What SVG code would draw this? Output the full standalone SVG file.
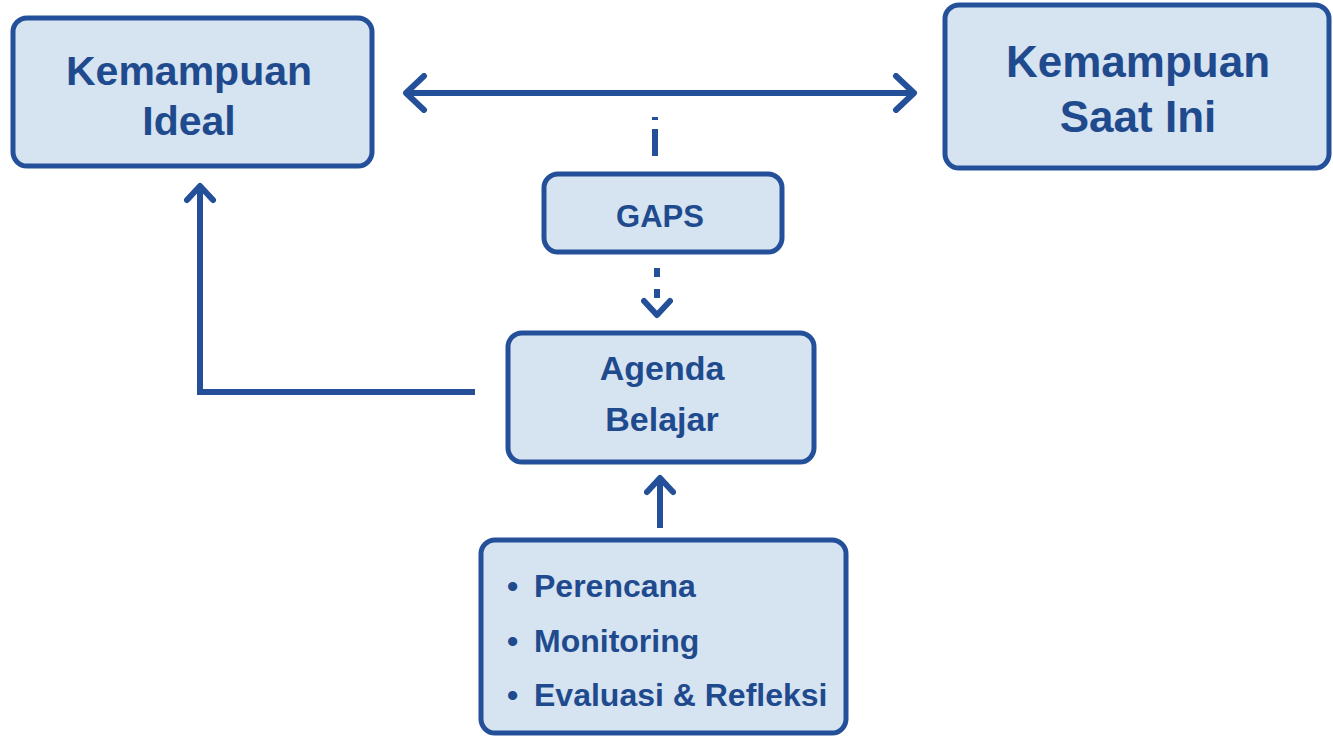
<svg xmlns="http://www.w3.org/2000/svg" width="1333" height="738" viewBox="0 0 1333 738">
<style>
.box{fill:#d6e3f1;stroke:#24509a;stroke-width:5}
.t{font-family:"Liberation Sans",Arial,sans-serif;font-weight:bold;fill:#1f4b8e;text-anchor:middle}
.b{font-family:"Liberation Sans",Arial,sans-serif;font-weight:bold;fill:#1f4b8e;font-size:32px}
.c{fill:none;stroke:#24509a;stroke-width:6}
</style>
<defs>
<marker id="big" viewBox="0 0 26 40" refX="22" refY="20" markerWidth="26" markerHeight="40" markerUnits="userSpaceOnUse" orient="auto-start-reverse">
<path d="M4,3 L22,20 L4,37" fill="none" stroke="#24509a" stroke-width="6" stroke-linecap="round" stroke-linejoin="round"/>
</marker>
<marker id="sm" viewBox="0 0 22 32" refX="18" refY="16" markerWidth="22" markerHeight="32" markerUnits="userSpaceOnUse" orient="auto">
<path d="M4,3 L18,16 L4,29" fill="none" stroke="#24509a" stroke-width="6" stroke-linecap="round" stroke-linejoin="round"/>
</marker>
</defs>
<g id="connectors">
<line class="c" x1="406" y1="93" x2="914" y2="93" marker-start="url(#big)" marker-end="url(#big)"/>
<line class="c" x1="655" y1="117" x2="655" y2="156" stroke-dasharray="3 9 40"/>
<line class="c" x1="657" y1="268" x2="657" y2="315" stroke-dasharray="9 12 9 100" marker-end="url(#sm)"/>
<polyline class="c" points="475,392 200,392 200,186" marker-end="url(#sm)"/>
<line class="c" x1="660" y1="528" x2="660" y2="478" marker-end="url(#sm)"/>
</g>
<g id="ideal">
<rect class="box" x="13" y="18" width="359" height="148" rx="14"/>
<text class="t" x="189" y="85" font-size="41">Kemampuan</text>
<text class="t" x="189" y="135" font-size="41">Ideal</text>
</g>
<g id="saat-ini">
<rect class="box" x="945" y="5" width="384" height="163" rx="14"/>
<text class="t" x="1138" y="77" font-size="44">Kemampuan</text>
<text class="t" x="1138" y="132" font-size="44">Saat Ini</text>
</g>
<g id="gaps">
<rect class="box" x="544" y="174" width="238" height="78" rx="14"/>
<text class="t" x="660" y="227" font-size="31">GAPS</text>
</g>
<g id="agenda">
<rect class="box" x="508" y="333" width="306" height="129" rx="14"/>
<text class="t" x="662" y="380" font-size="34">Agenda</text>
<text class="t" x="662" y="431" font-size="34">Belajar</text>
</g>
<g id="proses">
<rect class="box" x="481" y="540" width="365" height="193" rx="14"/>
<text class="b" y="597"><tspan x="507">•</tspan><tspan x="534">Perencana</tspan></text>
<text class="b" y="652"><tspan x="507">•</tspan><tspan x="534">Monitoring</tspan></text>
<text class="b" y="706"><tspan x="507">•</tspan><tspan x="534">Evaluasi &amp; Refleksi</tspan></text>
</g>
</svg>
